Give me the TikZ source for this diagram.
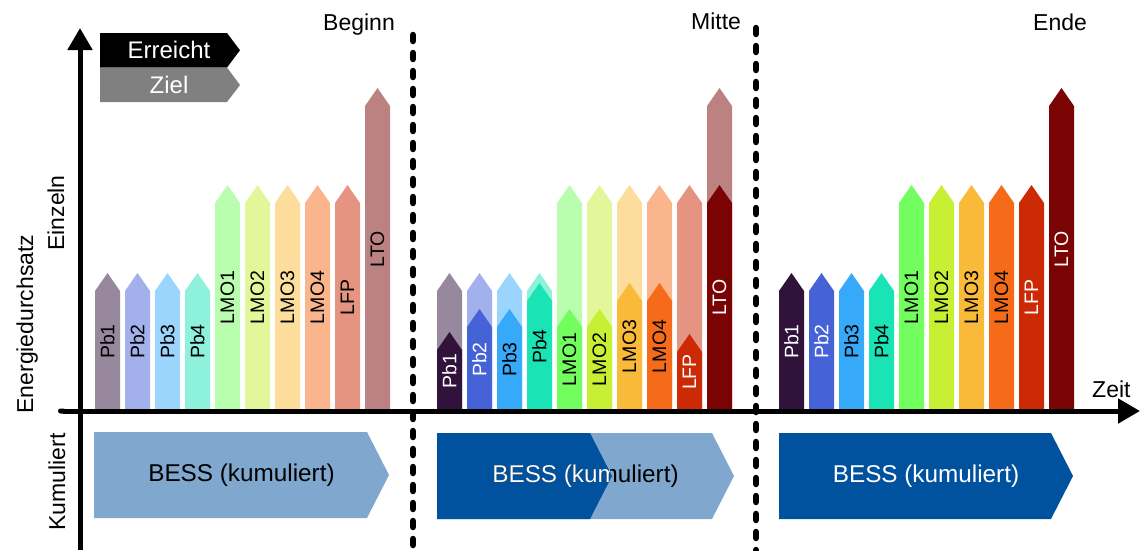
\documentclass[tikz,border=0pt]{standalone}
\usepackage{fontspec}
\setmainfont{Liberation Sans}
\usetikzlibrary{arrows.meta}
\definecolor{c0}{HTML}{30123B}
\definecolor{c1}{HTML}{4662D7}
\definecolor{c2}{HTML}{36AAF9}
\definecolor{c3}{HTML}{1AE4B6}
\definecolor{c4}{HTML}{72FE5E}
\definecolor{c5}{HTML}{C7EF34}
\definecolor{c6}{HTML}{FABA39}
\definecolor{c7}{HTML}{F66B19}
\definecolor{c8}{HTML}{CB2A04}
\definecolor{c9}{HTML}{7A0403}
\colorlet{l0}{c0!50!white}
\colorlet{l1}{c1!50!white}
\colorlet{l2}{c2!50!white}
\colorlet{l3}{c3!50!white}
\colorlet{l4}{c4!50!white}
\colorlet{l5}{c5!50!white}
\colorlet{l6}{c6!50!white}
\colorlet{l7}{c7!50!white}
\colorlet{l8}{c8!50!white}
\colorlet{l9}{c9!50!white}
\definecolor{bessd}{HTML}{00519E}
\colorlet{bessl}{bessd!50!white}
\newcommand{\batarrow}[3]{%
  \fill[#3] (#1,410) -- ({#1},{#2+18}) -- ({#1+12.5},#2) -- ({#1+25},{#2+18}) -- ({#1+25},410) -- cycle;}
\newcommand{\besschev}[4]{% left, right tip, top, colour
  \fill[#4] (#1,#3) -- ({#2-22},#3) -- (#2,{#3+43}) -- ({#2-22},{#3+86}) -- (#1,{#3+86}) -- cycle;}
\begin{document}
\begin{tikzpicture}[x=1pt,y=-1pt,
  maintext/.style={font=\fontsize{23}{27}\selectfont, inner sep=0pt},
  besstext/.style={font=\fontsize{24.3}{28}\selectfont, inner sep=0pt},
  legtext/.style={font=\fontsize{24}{28}\selectfont, inner sep=0pt, text=white},
  barlabel/.style={font=\fontsize{19.5}{22}\selectfont, rotate=90, inner sep=0pt},
  axisline/.style={line width=5pt, -{Triangle[length=22pt,width=24pt]}},
  dotline/.style={line width=6.5pt, line cap=round, dash pattern=on 6pt off 12pt}]
\useasboundingbox (0,0) rectangle (1142,550);

% legend
\fill[black] (100,33) -- (227,33) -- (240,50.25) -- (227,67.5) -- (100,67.5) -- cycle;
\fill[black!50] (100,67.5) -- (227,67.5) -- (240,85) -- (227,102) -- (100,102) -- cycle;
\node[legtext] (legA) at (169,50) {Erreicht};
\node[legtext] (legZ) at (169,85) {Ziel};

% headers
\node[maintext, anchor=base] (hB) at (359,30) {Beginn};
\node[maintext, anchor=base] (hM) at (716,29) {Mitte};
\node[maintext, anchor=base] (hE) at (1060,30) {Ende};

% group 1: targets only
\foreach \i/\lab/\tt in {0/Pb1/273,1/Pb2/273,2/Pb3/273,3/Pb4/273,4/LMO1/185,5/LMO2/185,6/LMO3/185,7/LMO4/185,8/LFP/185,9/LTO/88}{
  \batarrow{95+30*\i}{\tt}{l\i}
  \node[barlabel, text=black] (ga\i) at ({95+30*\i+12.5},{(\tt+410)/2}) {\lab};
}
% group 2: targets and achieved
\foreach \i/\lab/\tt/\at/\tc in {0/Pb1/273/332/white,1/Pb2/273/309/white,2/Pb3/273/309/black,3/Pb4/273/283/black,4/LMO1/185/309/black,5/LMO2/185/309/black,6/LMO3/185/283/black,7/LMO4/185/283/black,8/LFP/185/334/white,9/LTO/88/185/white}{
  \batarrow{437+30*\i}{\tt}{l\i}
  \batarrow{437+30*\i}{\at}{c\i}
  \node[barlabel, text=\tc] (gb\i) at ({437+30*\i+12.5},{(\at+410)/2}) {\lab};
}
% group 3: achieved
\foreach \i/\lab/\tt/\tc in {0/Pb1/273/white,1/Pb2/273/white,2/Pb3/273/black,3/Pb4/273/black,4/LMO1/185/black,5/LMO2/185/black,6/LMO3/185/black,7/LMO4/185/black,8/LFP/185/white,9/LTO/88/white}{
  \batarrow{779+30*\i}{\tt}{c\i}
  \node[barlabel, text=\tc] (gc\i) at ({779+30*\i+12.5},{(\tt+410)/2}) {\lab};
}

% BESS chevrons
\besschev{94}{389}{432}{bessl}
\node[besstext] (bess1) at (241.5,475) {BESS (kumuliert)};
\besschev{437}{734}{433}{bessl}
\besschev{437}{612}{433}{bessd}
\node[besstext] (bess2) at (585.5,476) {BESS (kumuliert)};
\begin{scope}
  \clip (437,433) -- (590,433) -- (612,476) -- (590,519) -- (437,519) -- cycle;
  \node[besstext, text=white] (bess2w) at (585.5,476) {BESS (kumuliert)};
\end{scope}
\besschev{779}{1073}{433}{bessd}
\node[besstext, text=white] (bess3) at (926,476) {BESS (kumuliert)};

% dotted separators
\coordinate (s1t) at (413,35);
\coordinate (s1b) at (413,552);
\coordinate (s2t) at (756,28);
\coordinate (s2b) at (756,552);
\draw[dotline] (s1t) -- (s1b);
\draw[dotline] (s2t) -- (s2b);

% axes
\coordinate (xs) at (58,411);
\coordinate (xe) at (1140,411);
\coordinate (ys) at (80,550);
\coordinate (ye) at (80,28);
\draw[axisline, {Round Cap[]}-{Triangle[length=22pt,width=24pt]}] (xs) -- (xe);
\draw[axisline] (ys) -- (ye);
\node[maintext, anchor=base west] (zeit) at (1092,397) {Zeit};

% axis labels
\node[maintext, rotate=90, anchor=base] (energy) at (33,324) {Energiedurchsatz};
\node[maintext, rotate=90, anchor=base] (einz) at (64,213) {Einzeln};
\node[maintext, rotate=90, anchor=base] (kum) at (65,482) {Kumuliert};
\end{tikzpicture}
\end{document}
